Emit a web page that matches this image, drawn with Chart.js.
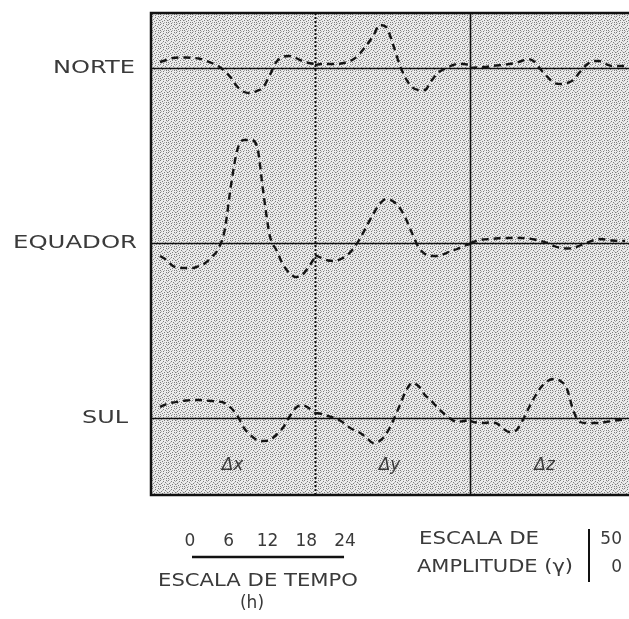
<!DOCTYPE html>
<html>
<head>
<meta charset="utf-8">
<script src="https://cdn.jsdelivr.net/npm/chart.js@4.4.1/dist/chart.umd.min.js"></script>
<style>
  html, body { margin: 0; padding: 0; background: #fff; }
  #chart { display: block; }
</style>
</head>
<body>
<canvas id="chart" width="629" height="619"></canvas>
<script>
// hours of the day, one panel per component
var hours = [0, 1, 2, 3, 4, 5, 6, 7, 8, 9, 10, 11, 12, 13, 14, 15, 16, 17, 18, 19, 20, 21, 22, 23, 24];
var stations = ['NORTE', 'EQUADOR', 'SUL'];
var components = ['\u0394x', '\u0394y', '\u0394z'];
var timeTicks = [0, 6, 12, 18, 24];
var ampTicks = ['50', '0'];

// variations in gamma
var norteDx = [12, 16, 20, 21, 21, 20, 19, 15, 10, 4, -6, -20, -38, -48, -50, -46, -38, -14, 12, 22, 24, 20, 14, 10, 8];
var norteDy = [6, 8, 8, 8, 9, 12, 18, 30, 46, 64, 86, 82, 50, 10, -20, -38, -44, -44, -26, -10, -2, 4, 8, 8, 6];
var norteDz = [0, 1, 2, 3, 5, 6, 8, 10, 14, 18, 12, -4, -18, -30, -32, -30, -24, -8, 6, 14, 14, 8, 4, 4, 4];
var equadorDx = [-26, -34, -46, -50, -50, -50, -46, -40, -28, -12, 25, 117, 188, 206, 206, 194, 100, 14, -14, -42, -60, -68, -64, -48, -28];
var equadorDy = [-24, -30, -35, -36, -32, -24, -10, 10, 34, 58, 78, 88, 84, 72, 50, 20, -8, -22, -26, -26, -22, -16, -12, -6, -2];
var equadorDz = [0, 4, 7, 8, 9, 10, 10, 10, 10, 9, 7, 4, 0, -6, -10, -11, -10, -5, 0, 5, 8, 7, 5, 4, 4];
var sulDx = [22, 28, 31, 33, 35, 36, 36, 35, 34, 33, 30, 20, 4, -20, -34, -44, -46, -44, -34, -20, 2, 20, 26, 20, 10];
var sulDy = [10, 8, 4, 0, -6, -16, -24, -30, -40, -50, -46, -32, -8, 22, 52, 70, 64, 46, 34, 20, 8, -2, -8, -6, -4];
var sulDz = [-6, -9, -10, -9, -10, -20, -28, -26, -8, 18, 42, 62, 74, 78, 74, 58, 14, -8, -10, -10, -10, -8, -6, -4, -3];

var series = [
    [norteDx, norteDy, norteDz],
    [equadorDx, equadorDy, equadorDz],
    [sulDx, sulDy, sulDz]
];

var stationGap = 350;   // gamma between the station baselines
var panelHours = 24;

function baseOf(i) {
    return (stations.length - 1 - i) * stationGap;
}

var datasets = [];
series.forEach(function (row, s) {
    row.forEach(function (vals, c) {
        datasets.push({
            label: stations[s] + ' ' + components[c],
            data: hours.map(function (h, k) {
                return { x: c * panelHours + h, y: baseOf(s) + vals[k] };
            }),
            borderColor: '#141414',
            borderWidth: 2.4,
            borderDash: [7, 5],
            pointRadius: 0,
            fill: false,
            cubicInterpolationMode: 'monotone'
        });
    });
});

// halftone-like screen for the plot area
function makePattern(ctx) {
    var p = document.createElement('canvas');
    p.width = 8; p.height = 8;
    var pc = p.getContext('2d');
    pc.fillStyle = '#ebebeb';
    pc.fillRect(0, 0, 8, 8);
    pc.fillStyle = '#7c7c7c';
    [[0, 0], [3, 1], [6, 0], [1, 3], [5, 2], [2, 5], [7, 4], [4, 4], [0, 6], [6, 6], [3, 7]]
        .forEach(function (d) { pc.fillRect(d[0], d[1], 1, 1); });
    pc.fillStyle = '#b4b4b4';
    [[2, 2], [7, 1], [4, 6], [1, 7], [6, 3], [0, 4]]
        .forEach(function (d) { pc.fillRect(d[0], d[1], 1, 1); });
    return ctx.createPattern(p, 'repeat');
}

function fitText(ctx, text, x, y, width, align) {
    var w = ctx.measureText(text).width;
    var k = width / w;
    var left = align === 'right' ? x - width : (align === 'center' ? x - width / 2 : x);
    ctx.save();
    ctx.translate(left, y);
    ctx.scale(k, 1);
    ctx.textAlign = 'left';
    ctx.fillText(text, 0, 0);
    ctx.restore();
}

var framePlugin = {
    id: 'frame',
    beforeDraw: function (chart) {
        var ctx = chart.ctx, a = chart.chartArea;
        ctx.save();
        ctx.fillStyle = '#fff';
        ctx.fillRect(0, 0, chart.width, chart.height);
        ctx.fillStyle = makePattern(ctx);
        ctx.fillRect(a.left, a.top, a.right - a.left, a.bottom - a.top);
        ctx.restore();
    },
    beforeDatasetsDraw: function (chart) {
        var ctx = chart.ctx, a = chart.chartArea;
        var xs = chart.scales.x, ys = chart.scales.y;
        ctx.save();
        ctx.strokeStyle = '#111';
        // station baselines
        ctx.lineWidth = 1.6;
        stations.forEach(function (n, i) {
            var y = Math.round(ys.getPixelForValue(baseOf(i))) + 0.5;
            ctx.beginPath(); ctx.moveTo(a.left, y); ctx.lineTo(a.right, y); ctx.stroke();
        });
        // panel dividers
        var x1 = Math.round(xs.getPixelForValue(panelHours)) + 0.5;
        ctx.lineWidth = 2;
        ctx.setLineDash([2, 2]);
        ctx.beginPath(); ctx.moveTo(x1, a.top); ctx.lineTo(x1, a.bottom); ctx.stroke();
        ctx.setLineDash([]);
        var x2 = Math.round(xs.getPixelForValue(2 * panelHours)) + 0.5;
        ctx.lineWidth = 1.6;
        ctx.beginPath(); ctx.moveTo(x2, a.top); ctx.lineTo(x2, a.bottom); ctx.stroke();
        // outer frame
        ctx.lineWidth = 2.5;
        ctx.beginPath();
        ctx.moveTo(a.right, a.top); ctx.lineTo(a.left, a.top);
        ctx.lineTo(a.left, a.bottom); ctx.lineTo(a.right, a.bottom);
        ctx.stroke();
        ctx.restore();
    },
    afterDraw: function (chart) {
        var ctx = chart.ctx, a = chart.chartArea;
        var xs = chart.scales.x, ys = chart.scales.y;
        var pxHour = xs.getPixelForValue(1) - xs.getPixelForValue(0);
        ctx.save();
        ctx.fillStyle = '#3a3a3a';
        ctx.textBaseline = 'middle';

        // station names
        ctx.font = '18px "DejaVu Sans"';
        var nameWidths = [82, 124, 46];
        var nameRight = [135, 137, 128];
        stations.forEach(function (n, i) {
            fitText(ctx, n, nameRight[i], ys.getPixelForValue(baseOf(i)), nameWidths[i], 'right');
        });

        // component labels
        ctx.font = 'italic 17px "DejaVu Sans"';
        ctx.textAlign = 'center';
        components.forEach(function (c, i) {
            var cx = xs.getPixelForValue(i * panelHours + 12) - (i === 0 ? 5 : 3);
            ctx.fillText(c, cx, a.bottom - 29);
        });

        // time scale
        var t0 = 190;
        ctx.font = '17px "DejaVu Sans"';
        timeTicks.forEach(function (t) {
            ctx.fillText(String(t), t0 + t * pxHour, 542);
        });
        ctx.strokeStyle = '#111';
        ctx.lineWidth = 2.5;
        ctx.beginPath(); ctx.moveTo(192, 557); ctx.lineTo(t0 + 24 * pxHour - 1, 557); ctx.stroke();
        ctx.font = '17px "DejaVu Sans"';
        fitText(ctx, 'ESCALA DE TEMPO', 258, 582, 200, 'center');
        ctx.textAlign = 'center';
        ctx.fillText('(h)', 252, 604);

        // amplitude scale
        fitText(ctx, 'ESCALA DE', 419, 540, 120, 'left');
        fitText(ctx, 'AMPLITUDE (\u03b3)', 417, 568, 156, 'left');
        ctx.lineWidth = 2;
        ctx.beginPath(); ctx.moveTo(589, 529); ctx.lineTo(589, 582); ctx.stroke();
        ctx.textAlign = 'right';
        ctx.fillText(ampTicks[0], 622, 540);
        ctx.fillText(ampTicks[1], 622, 568);
        ctx.restore();
    }
};

new Chart(document.getElementById('chart'), {
    type: 'line',
    data: { datasets: datasets },
    options: {
        responsive: false,
        animation: false,
        events: [],
        layout: { padding: { left: 151, top: 13, right: 0, bottom: 124 } },
        plugins: { legend: { display: false }, tooltip: { enabled: false } },
        scales: {
            x: { type: 'linear', display: false, min: -1.4, max: 72.6 },
            y: { type: 'linear', display: false, min: -154, max: 810 }
        }
    },
    plugins: [framePlugin]
});
</script>
</body>
</html>
